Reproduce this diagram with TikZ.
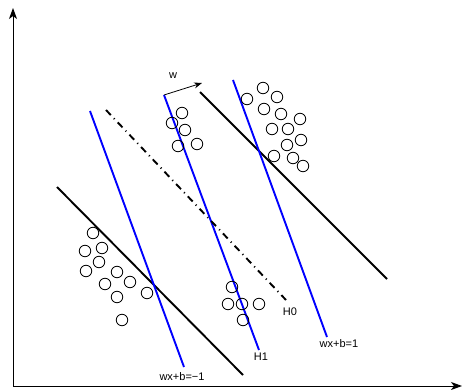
\documentclass[tikz,border=0pt]{standalone}
\usepackage{fontspec}
\setmainfont{Liberation Sans}
\usetikzlibrary{arrows.meta}
\begin{document}
\begin{tikzpicture}[x=1pt,y=-1pt,
  axis/.style={line width=0.9pt,-{Stealth[length=11pt,width=8pt,inset=3pt]}},
  margin/.style={line width=1.9pt,black},
  hyper/.style={line width=1.9pt,blue},
  center/.style={line width=1.9pt,black,dash pattern=on 7pt off 4.5pt on 1pt off 4.5pt},
  sample/.style={circle,draw,line width=0.8pt,minimum size=11.5pt,inner sep=0pt},
  lbl/.style={font=\fontsize{11}{13}\selectfont,inner sep=1pt}]
\useasboundingbox (0,0) rectangle (463,390);

% axes
\coordinate (o) at (13,386);
\coordinate (ytop) at (13,8);
\coordinate (xend) at (462,386);
\draw[axis] (o) -- (ytop);
\draw[axis] (o) -- (xend);

% black margin lines
\coordinate (m1a) at (57,187);  \coordinate (m1b) at (243,375);
\coordinate (m2a) at (200,92);  \coordinate (m2b) at (387,279);
\draw[margin] (m1a) -- (m1b);
\draw[margin] (m2a) -- (m2b);

% blue hyperplanes
\coordinate (b1a) at (90,111);  \coordinate (b1b) at (184,367);
\coordinate (b2a) at (164,95);  \coordinate (b2b) at (259,350);
\coordinate (b3a) at (233,80);  \coordinate (b3b) at (327,337);
\draw[hyper] (b1a) -- (b1b);
\draw[hyper] (b2a) -- (b2b);
\draw[hyper] (b3a) -- (b3b);

% dash-dotted line H0
\coordinate (h0a) at (106,110); \coordinate (h0b) at (286,300);
\draw[center] (h0a) -- (h0b);

% normal vector w
\coordinate (wtip) at (202,83);
\draw[line width=0.8pt,-{Stealth[length=8pt,width=6pt]}] (b2a) -- (wtip);
\node[lbl] (wl) at (173,76) {w};

% labels
\node[lbl] (lh0) at (290,312) {H0};
\node[lbl] (lh1) at (261,357) {H1};
\node[lbl] (lp1) at (339,344) {wx+b=1};
\node[lbl] (lm1) at (182,377) {wx+b=\char"2212 1};

% samples
\foreach \px/\py [count=\i] in {
  182/113, 172/123, 185/130, 178/146, 197/144,
  247/99, 263/88, 277/97, 264/109, 281/114, 300/119, 272/129, 288/129,
  301/140, 287/145, 274/156, 293/158, 303/166,
  93/233, 85/251, 102/248, 99/262, 86/271, 117/272, 130/282, 105/284,
  117/297, 147/293, 122/320,
  232/287, 228/304, 242/304, 259/304, 243/320}
  \node[sample] (s\i) at (\px,\py) {};
\end{tikzpicture}
\end{document}
